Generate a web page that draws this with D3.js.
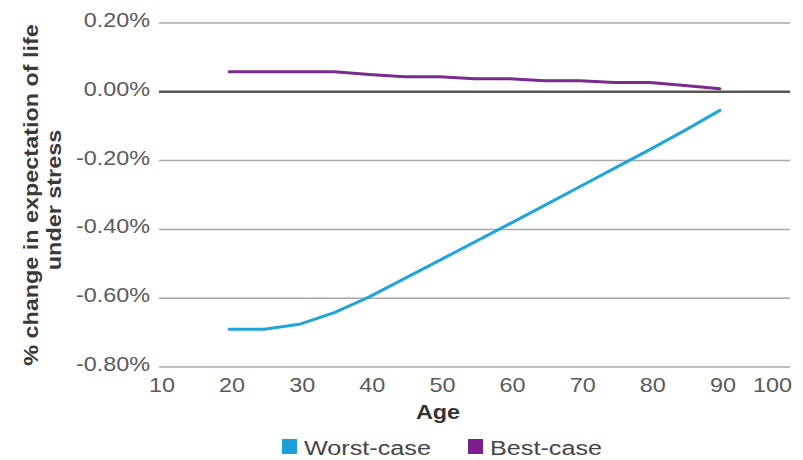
<!DOCTYPE html>
<html>
<head>
<meta charset="utf-8">
<script src="https://cdn.jsdelivr.net/npm/d3@7"></script>
<style>
  html, body { margin: 0; padding: 0; background: #fff; }
  svg { display: block; font-family: "Liberation Sans", Arial, Helvetica, sans-serif; }
</style>
</head>
<body>
<svg id="chart" width="803" height="460"></svg>
<script>
// ---- data ----
const ages = [20, 25, 30, 35, 40, 45, 50, 55, 60, 65, 70, 75, 80, 85, 90];
const worstCase = [-0.690, -0.690, -0.676, -0.642, -0.596, -0.543, -0.490, -0.437, -0.384, -0.330, -0.276, -0.222, -0.168, -0.112, -0.054];
const bestCase  = [0.058, 0.058, 0.058, 0.058, 0.050, 0.044, 0.044, 0.038, 0.038, 0.032, 0.032, 0.027, 0.027, 0.018, 0.009];
const seriesNames = ["Worst-case", "Best-case"];
const yTicks = [0.2, 0, -0.2, -0.4, -0.6, -0.8];
const xTicks = [10, 20, 30, 40, 50, 60, 70, 80, 90, 100];
const yTitleLines = ["% change in expectation of life", "under stress"];
const xTitle = "Age";

// ---- setup ----
const colors = { "Worst-case": "#1fa5d9", "Best-case": "#7b2a8f" };
const legendColors = { "Worst-case": "#1a9fd6", "Best-case": "#7a1f8b" };
const STRETCH = 1.17;
const svg = d3.select("#chart");

const x = d3.scaleLinear().domain([10, 100]).range([159, 790]);
const y = d3.scaleLinear().domain([-0.8, 0.2]).range([367, 23]);
const fmtPct = d => d3.format(".2f")(d).replace("\u2212", "-") + "%";

// helper: stretched text
function stext(parent, tx, ty, str, opts) {
  const g = parent.append("g")
    .attr("transform", `translate(${tx},${ty})` + (opts.rotate ? ` rotate(${opts.rotate})` : "") + ` scale(${opts.stretch || STRETCH},1)`);
  g.append("text")
    .attr("text-anchor", opts.anchor || "start")
    .attr("font-size", opts.size || 20)
    .attr("font-weight", opts.weight || "normal")
    .attr("fill", opts.fill || "#555")
    .text(str);
  return g;
}

// gridlines
const grid = svg.append("g");
yTicks.forEach(t => {
  grid.append("line")
    .attr("x1", x(10)).attr("x2", x(100))
    .attr("y1", y(t)).attr("y2", y(t))
    .attr("stroke", t === 0 ? "#555" : "#a8a8a8")
    .attr("stroke-width", t === 0 ? 2.5 : 1.5);
});

// y tick labels
yTicks.forEach(t => {
  stext(svg, 150, y(t) + 4, fmtPct(t), { anchor: "end", size: 20, fill: "#5a5a5a" });
});

// x tick labels
xTicks.forEach((t, i) => {
  if (i === xTicks.length - 1) {
    stext(svg, x(t) + 2, 392, String(t), { anchor: "end", size: 20, fill: "#5a5a5a" });
  } else {
    stext(svg, x(t) + 3, 392, String(t), { anchor: "middle", size: 20, fill: "#5a5a5a" });
  }
});

// axis titles
stext(svg, 438, 419, xTitle, { anchor: "middle", size: 20, weight: "bold", fill: "#333" });
stext(svg, 38, 195, yTitleLines[0], { anchor: "middle", size: 20, weight: "bold", fill: "#3a3a3a", rotate: -90 });
stext(svg, 61, 200, yTitleLines[1], { anchor: "middle", size: 20, weight: "bold", fill: "#3a3a3a", rotate: -90 });

// lines
const line = d3.line().x(d => x(d[0])).y(d => y(d[1]));
const seriesData = [
  { name: "Worst-case", values: ages.map((a, i) => [a, worstCase[i]]) },
  { name: "Best-case", values: ages.map((a, i) => [a, bestCase[i]]) }
];
svg.append("g").selectAll("path").data(seriesData).join("path")
  .attr("d", d => line(d.values))
  .attr("fill", "none")
  .attr("stroke", d => colors[d.name])
  .attr("stroke-width", 3)
  .attr("stroke-linejoin", "round")
  .attr("stroke-linecap", "round");

// legend
const legendX = [282, 468];
seriesNames.forEach((n, i) => {
  svg.append("rect")
    .attr("x", legendX[i]).attr("y", 439)
    .attr("width", 15).attr("height", 15)
    .attr("fill", legendColors[n]);
  stext(svg, legendX[i] + 22, 455, n, { anchor: "start", size: 21, fill: "#444", stretch: 1.2 });
});
</script>
</body>
</html>
